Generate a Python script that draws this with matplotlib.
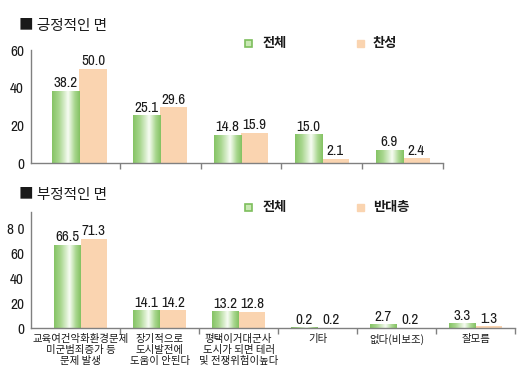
import matplotlib
matplotlib.use("Agg")
import matplotlib.pyplot as plt
import numpy as np
from matplotlib.colors import LinearSegmentedColormap
from matplotlib.patches import Rectangle
from matplotlib import font_manager

# ---------------- data ----------------
pos_categories = ["", "", "", "", ""]
pos_total = [38.2, 25.1, 14.8, 15.0, 6.9]
pos_support = [50.0, 29.6, 15.9, 2.1, 2.4]
pos_yticks = [0, 20, 40, 60]
pos_yticklabels = ["0", "20", "40", "60"]

neg_categories = ["교육여건악화환경문제\n미군범죄증가 등\n문제 발생",
                  "장기적으로\n도시발전에\n도움이 안된다",
                  "평택이거대군사\n도시가 되면 테러\n및 전쟁위험이높다",
                  "기타", "없다(비보조)", "잘모름"]
neg_total = [66.5, 14.1, 13.2, 0.2, 2.7, 3.3]
neg_oppose = [71.3, 14.2, 12.8, 0.2, 0.2, 1.3]
neg_yticks = [0, 20, 40, 60, 80]
neg_yticklabels = ["0", "20", "40", "60", "8 0"]

title_pos = "■ 긍정적인 면"
title_neg = "■ 부정적인 면"
legend_pos = ["전체", "찬성"]
legend_neg = ["전체", "반대층"]

# ---------------- style ----------------
avail = {f.name for f in font_manager.fontManager.ttflist}
narrow = "DejaVu Sans"
for cand in ["Archivo Narrow", "Roboto Condensed", "Liberation Sans Narrow"]:
    if cand in avail:
        narrow = cand
        break
KR = "Noto Sans CJK KR"
NUMFONT = [narrow, KR]
plt.rcParams['font.family'] = [KR, 'DejaVu Sans']

ORANGE = "#FAD4B0"
AXIS = "#808080"
TEXT = "#1a1a1a"

green_cmap = LinearSegmentedColormap.from_list(
    "g", [(0.0, "#86C466"), (0.25, "#A9D78F"), (0.58, "#F7FCF3"),
          (0.82, "#A9D78F"), (1.0, "#84C263")])
grad = np.linspace(0, 1, 64).reshape(1, -1)

W, H = 531, 384
fig = plt.figure(figsize=(W / 100, H / 100), dpi=100)


def fx(px):
    return px / W


def fy(py):
    return 1 - py / H


def draw_panel(rect, totals, others, yticks, yticklabels, ylim, xlim, cats):
    ax = fig.add_axes(rect)
    n = len(totals)
    x = np.arange(n)
    bw = 0.335
    gb = ax.bar(x - bw / 2, totals, bw, color="none", edgecolor="none", zorder=2)
    ob = ax.bar(x + bw / 2, others, bw, color=ORANGE, edgecolor="none", zorder=2)
    for r in gb:
        x0, w, h = r.get_x(), r.get_width(), r.get_height()
        ax.imshow(grad, cmap=green_cmap, extent=[x0, x0 + w, 0, h],
                  aspect="auto", zorder=2, interpolation="bilinear")
    for r, v in zip(list(gb) + list(ob), list(totals) + list(others)):
        ax.annotate(f"{v:.1f}", xy=(r.get_x() + r.get_width() / 2, v),
                    xytext=(0, 0.5), textcoords="offset points",
                    ha="center", va="bottom", fontsize=10.8, family=NUMFONT,
                    color=TEXT)
    ax.set_xlim(*xlim)
    ax.set_ylim(*ylim)
    ax.set_aspect("auto")
    for s in ["top", "right"]:
        ax.spines[s].set_visible(False)
    for s in ["left", "bottom"]:
        ax.spines[s].set_color(AXIS)
        ax.spines[s].set_linewidth(1.0)
    ax.set_yticks(yticks)
    ax.set_yticklabels(yticklabels, family=NUMFONT, fontsize=11, color=TEXT)
    ax.tick_params(axis="y", length=0, pad=5)
    ax.set_xticks(x + 0.5)
    ax.set_xticklabels([])
    ax.tick_params(axis="x", length=4, width=1, color=AXIS, direction="out")
    if any(cats):
        for xi, c in zip(x, cats):
            ax.annotate(c, xy=(xi, 0), xycoords="data", xytext=(0, -4),
                        textcoords="offset points", ha="center", va="top",
                        fontsize=7.5, linespacing=1.15, color=TEXT)
    return ax


# top panel: x 31..443, y 50..163 px
ax1 = draw_panel([fx(31), fy(163), fx(443) - fx(31), fy(50) - fy(163)],
                 pos_total, pos_support, pos_yticks, pos_yticklabels,
                 (0, 60), (-0.6, 4.5), pos_categories)
# bottom panel: x 31..515, y 212..328 px
ax2 = draw_panel([fx(31), fy(328), fx(515) - fx(31), fy(212) - fy(328)],
                 neg_total, neg_oppose, neg_yticks, neg_yticklabels,
                 (0, 93), (-0.63, 5.5), neg_categories)

# titles
fig.text(fx(19), fy(26), title_pos, fontsize=10.5, va="center", ha="left",
         color=TEXT, fontweight="medium")
fig.text(fx(19), fy(195), title_neg, fontsize=10.5, va="center", ha="left",
         color=TEXT, fontweight="medium")


def legend(ycenter, labels):
    s = 7
    gx, ox = 245, 357
    fig.patches.append(Rectangle((fx(gx), fy(ycenter + s / 2)), s / W, s / H,
                                 transform=fig.transFigure, facecolor="#C9E8B4",
                                 edgecolor="#7DBE5C", linewidth=1.2))
    fig.text(fx(gx + 18), fy(ycenter), labels[0], fontsize=9.5, va="center",
             ha="left", color=TEXT, fontweight="bold")
    fig.patches.append(Rectangle((fx(ox), fy(ycenter + s / 2)), s / W, s / H,
                                 transform=fig.transFigure, facecolor=ORANGE,
                                 edgecolor=ORANGE, linewidth=1.0))
    fig.text(fx(ox + 16), fy(ycenter), labels[1], fontsize=9.5, va="center",
             ha="left", color=TEXT, fontweight="bold")


legend(43, legend_pos)
legend(207, legend_neg)

fig.savefig("out.png", dpi=100)
